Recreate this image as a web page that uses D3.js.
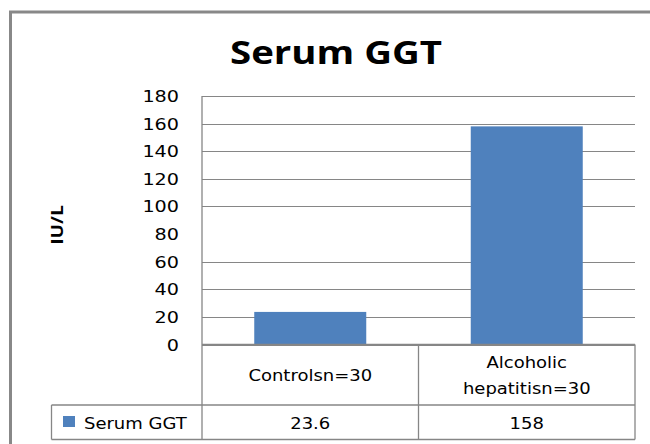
<!DOCTYPE html>
<html>
<head>
<meta charset="utf-8">
<script src="https://cdn.jsdelivr.net/npm/d3@7"></script>
<style>
  body { margin: 0; background: #fff; overflow: hidden; }
  svg { display: block; }
  text { font-family: "DejaVu Sans", Verdana, sans-serif; fill: #000; }
</style>
</head>
<body>
<div id="chart"></div>
<script>
// chart data
const categories = ["Controlsn=30", "Alcoholic\nhepatitisn=30"];
const values = [23.6, 158];
const valueLabels = ["23.6", "158"];
const seriesName = "Serum GGT";
const yTicks = [0, 20, 40, 60, 80, 100, 120, 140, 160, 180];

const width = 650, height = 444;
const plotLeft = 202, plotRight = 635, plotTop = 96, plotBottom = 344.5;
const tableRow = 405, tableBottom = 439.5, legendLeft = 51.5;
const sx = 1.2; // the source picture is stretched sideways
const gray = "#868686";

const svg = d3.select("#chart").append("svg")
  .attr("width", width)
  .attr("height", height);

// outer chart border, only top and left edges are inside the picture
svg.append("path")
  .attr("d", `M10.5,${height}V12H${width}`)
  .attr("fill", "none")
  .attr("stroke", "#888")
  .attr("stroke-width", 3);

const x = d3.scaleBand().domain(categories).range([plotLeft, plotRight]);
const y = d3.scaleLinear().domain([0, 180]).range([plotBottom, plotTop]);

// text helper, squeezes text horizontally like the source
const label = (g, tx, ty, str, opts = {}) => g.append("text")
  .attr("transform", `translate(${tx},${ty}) scale(${sx},1)`)
  .attr("text-anchor", opts.anchor || "middle")
  .attr("font-size", opts.size || 15)
  .attr("font-weight", opts.weight || "normal")
  .text(str);

// title
svg.append("text")
  .attr("transform", `translate(336,64) scale(${sx},1)`)
  .attr("text-anchor", "middle")
  .style("font-family", "'Open Sans', sans-serif")
  .attr("font-weight", "bold")
  .attr("font-size", 32)
  .text("Serum GGT");

// gridlines (the 80 line does not show in the source)
svg.append("g")
  .selectAll("line")
  .data(yTicks.filter(d => d !== 80))
  .join("line")
  .attr("x1", plotLeft).attr("x2", plotRight)
  .attr("y1", d => Math.round(y(d)) + 0.5)
  .attr("y2", d => Math.round(y(d)) + 0.5)
  .attr("stroke", gray);

// y tick labels
const yAxis = svg.append("g");
yTicks.forEach(d => label(yAxis, 179, y(d) + 6, d, {anchor: "end", size: 16}));

// y axis title
svg.append("text")
  .attr("transform", "translate(63,225) rotate(-90) scale(1.2,1)")
  .attr("text-anchor", "middle")
  .style("font-family", "'Open Sans', sans-serif")
  .attr("font-weight", "bold")
  .attr("font-size", 16)
  .text("IU/L");

// bars
const barW = 112;
svg.append("g")
  .selectAll("rect")
  .data(values)
  .join("rect")
  .attr("x", (d, i) => x(categories[i]) + (x.bandwidth() - barW) / 2)
  .attr("y", d => y(d))
  .attr("width", barW)
  .attr("height", d => y(0) - y(d))
  .attr("fill", "#4F81BD");

// axis and data table lines
const lines = svg.append("g").attr("stroke", gray).attr("stroke-width", 1.3);
const hl = (x1, x2, yy) => lines.append("line").attr("x1", x1).attr("x2", x2).attr("y1", yy).attr("y2", yy);
const vl = (xx, y1, y2) => lines.append("line").attr("x1", xx).attr("x2", xx).attr("y1", y1).attr("y2", y2);
vl(plotLeft, plotTop, tableBottom);
hl(plotLeft, plotRight, plotBottom);
hl(legendLeft, plotRight, tableRow);
hl(legendLeft, plotRight, tableBottom);
vl(legendLeft, tableRow, tableBottom);
categories.forEach(c => vl(x(c) + x.bandwidth(), plotBottom, tableBottom));

// category labels
const catG = svg.append("g");
categories.forEach(c => {
  const parts = c.split("\n");
  const cx = x(c) + x.bandwidth() / 2;
  const mid = (plotBottom + tableRow) / 2 + 6;
  parts.forEach((p, j) => label(catG, cx, mid + (j - (parts.length - 1) / 2) * 26, p));
});

// value row
const valG = svg.append("g");
valueLabels.forEach((v, i) => label(valG, x(categories[i]) + x.bandwidth() / 2, 429, v));

// legend key
svg.append("rect")
  .attr("x", 63).attr("y", 416)
  .attr("width", 12).attr("height", 11)
  .attr("fill", "#4F81BD");
label(svg, 84, 429, seriesName, {anchor: "start"});
</script>
</body>
</html>
